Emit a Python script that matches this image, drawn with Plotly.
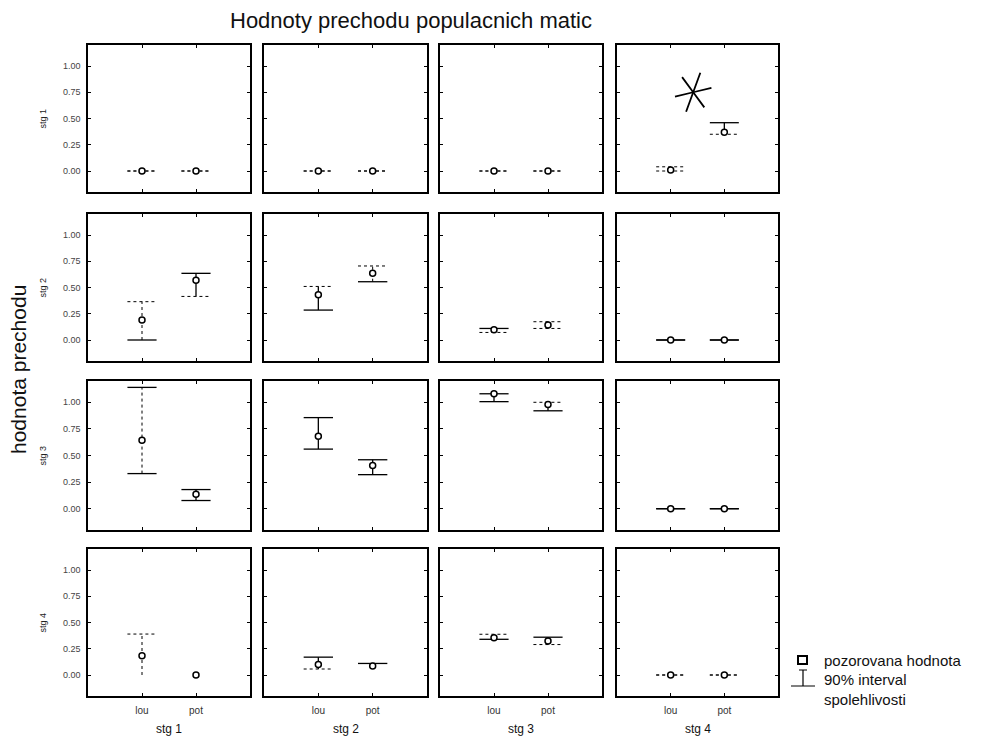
import plotly.graph_objects as go

# ---------------- data ----------------
stages = ["stg 1", "stg 2", "stg 3", "stg 4"]
groups = ["lou", "pot"]
y_ticks = [0.0, 0.25, 0.5, 0.75, 1.0]

# [row stage][column stage][lou, pot]
observed = [
    [[0.00, 0.00], [0.00, 0.00], [0.00, 0.00], [0.01, 0.37]],
    [[0.19, 0.57], [0.43, 0.635], [0.098, 0.143], [0.00, 0.00]],
    [[0.644, 0.135], [0.68, 0.407], [1.08, 0.98], [0.00, 0.00]],
    [[0.184, 0.00], [0.10, 0.086], [0.355, 0.324], [0.00, 0.00]],
]
lower = [
    [[0.00, 0.00], [0.00, 0.00], [0.00, 0.00], [0.00, 0.35]],
    [[0.00, 0.415], [0.285, 0.555], [0.072, 0.11], [0.00, 0.00]],
    [[0.33, 0.077], [0.56, 0.32], [1.006, 0.92], [0.00, 0.00]],
    [[0.00, 0.00], [0.057, 0.086], [0.34, 0.29], [0.00, 0.00]],
]
upper = [
    [[0.00, 0.00], [0.00, 0.00], [0.00, 0.00], [0.04, 0.46]],
    [[0.365, 0.635], [0.51, 0.705], [0.11, 0.174], [0.00, 0.00]],
    [[1.14, 0.18], [0.856, 0.46], [1.08, 1.00], [0.00, 0.00]],
    [[0.39, 0.00], [0.17, 0.11], [0.388, 0.36], [0.00, 0.00]],
]
# cap / stem line styles: s = solid, d = dotted, n = none
lower_cap = [
    [["d", "d"], ["d", "d"], ["d", "d"], ["d", "d"]],
    [["s", "d"], ["s", "s"], ["d", "d"], ["s", "s"]],
    [["s", "s"], ["s", "s"], ["s", "s"], ["s", "s"]],
    [["n", "n"], ["d", "n"], ["s", "d"], ["d", "d"]],
]
upper_cap = [
    [["d", "d"], ["d", "d"], ["d", "d"], ["d", "s"]],
    [["d", "s"], ["d", "d"], ["s", "d"], ["s", "s"]],
    [["s", "s"], ["s", "s"], ["s", "d"], ["s", "s"]],
    [["d", "n"], ["s", "s"], ["d", "s"], ["d", "d"]],
]
stem_style = [
    [["s", "s"], ["s", "s"], ["s", "s"], ["s", "s"]],
    [["d", "s"], ["s", "d"], ["s", "s"], ["s", "s"]],
    [["d", "s"], ["s", "s"], ["s", "s"], ["s", "s"]],
    [["d", "s"], ["s", "s"], ["s", "d"], ["s", "s"]],
]
# outlier star in panel (stg 1, stg 4)
star_x = [1.42]
star_y = [0.75]

# ---------------- layout geometry ----------------
OFF = 8                      # default page body margin
W, H = 984 - 2 * OFF, 745 - 2 * OFF
col_px = [(88, 250), (264, 427), (440, 602), (617, 778)]
row_px = [(45, 192), (214, 361), (381, 530), (549, 696)]
FONT = "Liberation Sans, Arial, sans-serif"
CAP = 0.27


def px_x(p):
    return (p - OFF) / W


def px_y(p):
    return 1 - (p - OFF) / H


def dash_of(s):
    return "solid" if s == "s" else "dot"


def width_of(s):
    return 1.3 if s == "s" else 1.0


fig = go.Figure()
layout = {}
annotations = []

for r in range(4):
    for c in range(4):
        k = r * 4 + c + 1
        xa = "x" if k == 1 else f"x{k}"
        ya = "y" if k == 1 else f"y{k}"
        xkey = "xaxis" if k == 1 else f"xaxis{k}"
        ykey = "yaxis" if k == 1 else f"yaxis{k}"
        x0, x1 = col_px[c]
        y0, y1 = row_px[r]
        layout[xkey] = dict(
            domain=[px_x(x0), px_x(x1)], anchor=ya, range=[0, 3],
            tickvals=[1, 2], ticktext=groups, showticklabels=(r == 3),
            ticks="inside", ticklen=3, tickcolor="black", ticklabelstandoff=4,
            showline=True, linecolor="black", linewidth=1.5, mirror="ticks",
            showgrid=False, zeroline=False, fixedrange=True,
            tickfont=dict(family=FONT, size=10, color="#333"),
        )
        layout[ykey] = dict(
            domain=[px_y(y1), px_y(y0)], anchor=xa, range=[-0.2, 1.2],
            tickvals=y_ticks, ticktext=[f"{v:.2f}" for v in y_ticks],
            showticklabels=(c == 0), ticklabelstandoff=4,
            ticks="inside", ticklen=3, tickcolor="black",
            showline=True, linecolor="black", linewidth=1.5, mirror="ticks",
            showgrid=False, zeroline=False, fixedrange=True,
            tickfont=dict(family=FONT, size=9, color="#444"),
        )
        for g in range(2):
            xg = g + 1
            v = observed[r][c][g]
            lo = lower[r][c][g]
            hi = upper[r][c][g]
            st = stem_style[r][c][g]
            # stem
            if hi > lo:
                fig.add_trace(go.Scatter(
                    x=[xg, xg], y=[lo, hi], mode="lines", xaxis=xa, yaxis=ya,
                    line=dict(color="black", width=width_of(st), dash=dash_of(st)),
                    showlegend=False, hoverinfo="skip"))
            # caps
            for val, sty in ((lo, lower_cap[r][c][g]), (hi, upper_cap[r][c][g])):
                if sty == "n":
                    continue
                fig.add_trace(go.Scatter(
                    x=[xg - CAP, xg + CAP], y=[val, val], mode="lines",
                    xaxis=xa, yaxis=ya,
                    line=dict(color="black", width=width_of(sty), dash=dash_of(sty)),
                    showlegend=False, hoverinfo="skip"))
            # observed value
            fig.add_trace(go.Scatter(
                x=[xg], y=[v], mode="markers", xaxis=xa, yaxis=ya,
                marker=dict(symbol="circle", size=6, color="white",
                            line=dict(color="black", width=1.5)),
                showlegend=False, hoverinfo="skip"))
        if r == 0 and c == 3:
            for sym in ("y-up-open", "y-down-open"):
                fig.add_trace(go.Scatter(
                    x=star_x, y=star_y, mode="markers", xaxis=xa, yaxis=ya,
                    marker=dict(symbol=sym, size=26, angle=20, color="black",
                                line=dict(color="black", width=1.8)),
                    showlegend=False, hoverinfo="skip"))

# row labels
for r in range(4):
    y0, y1 = row_px[r]
    annotations.append(dict(
        text=stages[r], x=px_x(42), y=px_y((y0 + y1) / 2), xref="paper", yref="paper",
        textangle=-90, showarrow=False, xanchor="center", yanchor="middle",
        font=dict(family=FONT, size=9, color="#222")))
# column labels
for c in range(4):
    x0, x1 = col_px[c]
    annotations.append(dict(
        text=stages[c], x=px_x((x0 + x1) / 2), y=px_y(729), xref="paper", yref="paper",
        showarrow=False, xanchor="center", yanchor="middle",
        font=dict(family=FONT, size=12, color="#111")))
# main titles
annotations.append(dict(
    text="Hodnoty prechodu populacnich matic", x=px_x(411), y=px_y(20),
    xref="paper", yref="paper", showarrow=False, xanchor="center", yanchor="middle",
    font=dict(family=FONT, size=22, color="#111")))
annotations.append(dict(
    text="hodnota prechodu", x=px_x(18), y=px_y(370), xref="paper", yref="paper",
    textangle=-90, showarrow=False, xanchor="center", yanchor="middle",
    font=dict(family=FONT, size=21, color="#111")))
# legend texts
for txt, yy in (("pozorovana hodnota", 660), ("90% interval", 679), ("spolehlivosti", 699)):
    annotations.append(dict(
        text=txt, x=px_x(822), y=px_y(yy), xref="paper", yref="paper",
        showarrow=False, xanchor="left", yanchor="middle",
        font=dict(family=FONT, size=15, color="#111")))

shapes = [
    dict(type="rect", xref="paper", yref="paper",
         x0=px_x(798), x1=px_x(807), y0=px_y(664), y1=px_y(656),
         line=dict(color="black", width=2), fillcolor="white"),
    dict(type="line", xref="paper", yref="paper",
         x0=px_x(803), x1=px_x(803), y0=px_y(670), y1=px_y(686),
         line=dict(color="black", width=1.2)),
    dict(type="line", xref="paper", yref="paper",
         x0=px_x(799), x1=px_x(807), y0=px_y(670), y1=px_y(670),
         line=dict(color="black", width=1)),
    dict(type="line", xref="paper", yref="paper",
         x0=px_x(791), x1=px_x(815), y0=px_y(686), y1=px_y(686),
         line=dict(color="black", width=1)),
]

fig.update_layout(
    width=W, height=H, margin=dict(l=0, r=0, t=0, b=0),
    paper_bgcolor="white", plot_bgcolor="white",
    annotations=annotations, shapes=shapes, showlegend=False,
    **layout,
)
fig.write_html("out.html")
